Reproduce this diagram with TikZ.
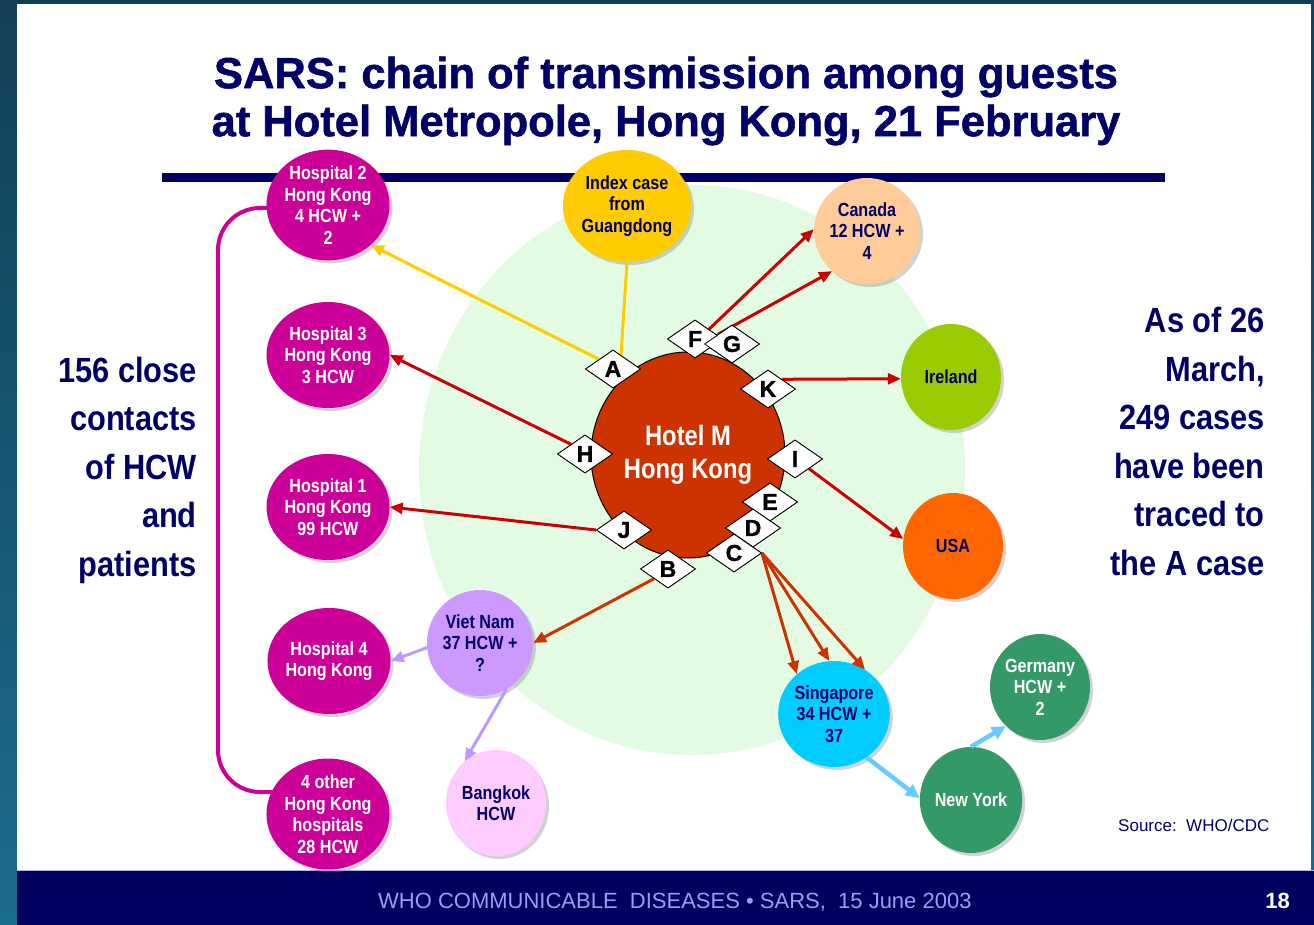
\documentclass[tikz,border=0pt]{standalone}
\usepackage{fontspec}
\setmainfont{Liberation Sans}
\newfontfamily\nf[FakeStretch=0.85]{Liberation Sans}
\newfontfamily\nfb[FakeStretch=0.88]{Liberation Sans}
\newfontfamily\heavy[FakeBold=1.2]{Liberation Sans}
\usetikzlibrary{shapes.geometric,arrows.meta,shadows,calc}
\definecolor{navy}{HTML}{000066}
\definecolor{footnavy}{HTML}{000060}
\definecolor{foottext}{HTML}{9C9CF4}
\definecolor{tealtop}{HTML}{123F57}
\definecolor{tealbot}{HTML}{1B6D8D}
\definecolor{mag}{HTML}{CC0099}
\definecolor{redarr}{HTML}{CC0000}
\definecolor{orarr}{HTML}{CC3300}
\definecolor{hotelc}{HTML}{CC3300}
\definecolor{yel}{HTML}{FFCC00}
\definecolor{mint}{HTML}{E2FBE2}
\definecolor{canadac}{HTML}{FFCC99}
\definecolor{irelandc}{HTML}{99CC00}
\definecolor{usac}{HTML}{FF6600}
\definecolor{vnc}{HTML}{CC99FF}
\definecolor{bkc}{HTML}{FFCCFF}
\definecolor{sgc}{HTML}{00CCFF}
\definecolor{grc}{HTML}{339966}
\definecolor{lblue}{HTML}{66CCFF}
\definecolor{lpurp}{HTML}{BB99FF}
\begin{document}
\begin{tikzpicture}[x=1pt,y=-1pt,
  ball/.style={ellipse, minimum width=100pt, minimum height=106pt, inner sep=0pt, align=center,
    font=\nf\bfseries\fontsize{19}{21.5}\selectfont,
    drop shadow={shadow xshift=3pt, shadow yshift=-3pt, opacity=0.35}},
  hosp/.style={ball, fill=mag, text=white},
  letterbox/.style={diamond, draw=black, line width=0.8pt, fill=white, minimum width=55pt,
    minimum height=38pt, inner sep=0pt, font=\heavy\bfseries\fontsize{23}{23}\selectfont},
  arr/.style={line width=3pt, -{Triangle[length=13pt,width=11pt]}},
  thickarr/.style={line width=4.5pt, -{Triangle[length=14pt,width=13pt]}},
  bigtext/.style={font=\nfb\bfseries\fontsize{35}{48.5}\selectfont, text=navy, align=right, inner sep=0pt}
]
\useasboundingbox (0,0) rectangle (1314,925);
% background
\shade[top color=tealtop, bottom color=tealbot] (0,0) rectangle (1314,925);
\fill[white] (17,4) rectangle (1311,870);
\fill[footnavy] (17,870) rectangle (1314,925);
\draw[color=foottext!80!white, line width=1.5pt] (17,870.5) -- (1314,870.5);
% title
\node[font=\heavy\bfseries\fontsize{43.5}{48}\selectfont, text=navy, align=center] (title) at (666,101)
  {SARS: chain of transmission among guests\\at Hotel Metropole, Hong Kong, 21 February};
\draw[navy, line width=9pt] (162,178) -- (1165,178);
% mint backdrop
\fill[mint] (692,470) ellipse [x radius=273, y radius=285];
% side texts (base anchor = baseline of last line)
\node[bigtext, anchor=base east] (lefttext) at (197,576)
  {156 close\\contacts\\of HCW\\and\\patients};
\node[bigtext, anchor=base east] (righttext) at (1265,575)
  {As of 26\\March,\\249 cases\\have been\\traced to\\the A case};
\node[font=\fontsize{17}{17}\selectfont, text=navy, anchor=base west, inner sep=0pt] (source) at (1118,831)
  {Source:\ \ WHO/CDC};
% footer
\node[font=\fontsize{22}{22}\selectfont, text=foottext, anchor=base west, inner sep=0pt] (foot) at (378,908)
  {WHO COMMUNICABLE\ \ DISEASES \textbullet\ SARS,\ \ 15 June 2003};
\node[font=\bfseries\fontsize{22}{22}\selectfont, text=white, anchor=base east, inner sep=0pt] (pagenum) at (1290,908) {18};
% circles
\node[hosp] (h2) at (328,205) {Hospital 2\\Hong Kong\\4 HCW +\\2};
\node[hosp] (h3) at (328,355) {Hospital 3\\Hong Kong\\3 HCW};
\node[hosp] (h1) at (328,507) {Hospital 1\\Hong Kong\\99 HCW};
\node[hosp] (h4) at (329,661) {Hospital 4\\Hong Kong};
\node[hosp] (h5) at (328,814) {4 other\\Hong Kong\\hospitals\\28 HCW};
\node[ball, fill=yel, text=navy, minimum width=110pt, minimum height=112pt] (index) at (627,206) {Index case\\from\\Guangdong};
\node[ball, fill=canadac, text=navy] (canada) at (867,231) {Canada\\12 HCW +\\4};
\node[ball, fill=irelandc, text=navy] (ireland) at (951,377) {Ireland};
\node[ball, fill=usac, text=navy] (usa) at (953,546) {USA};
\node[ball, fill=vnc, text=navy] (vn) at (480,643) {Viet Nam\\37 HCW +\\?};
\node[ball, fill=bkc, text=navy] (bk) at (496,803) {Bangkok\\HCW};
\node[ball, fill=sgc, text=navy] (sg) at (834,714) {Singapore\\34 HCW +\\37};
\node[ball, fill=grc, text=white] (de) at (1040,687) {Germany\\HCW +\\2};
\node[ball, fill=grc, text=white] (ny) at (971,800) {New York};
% hotel
\node[ellipse, draw=black, line width=1pt, fill=hotelc, minimum width=194pt, minimum height=206pt,
  text=white, font=\nf\bfseries\fontsize{28}{33}\selectfont, align=center, inner sep=0pt] (hotel) at (688,455)
  {Hotel M\\Hong Kong};
% bracket
\coordinate (btop) at (273,208);
\coordinate (bbot) at (274,792);
\draw[mag, line width=4pt, rounded corners=42pt] (btop) -- (218,208) -- (218,792) -- (bbot);
% diamonds
\node[letterbox] (A) at (613,369) {A};
\node[letterbox] (F) at (695,339) {F};
\node[letterbox] (G) at (732,344) {G};
\node[letterbox] (K) at (768,389) {K};
\node[letterbox] (H) at (585,454) {H};
\node[letterbox] (I) at (795,459) {I};
\node[letterbox] (E) at (770,502) {E};
\node[letterbox] (D) at (753,528) {D};
\node[letterbox] (C) at (734,553) {C};
\node[letterbox] (J) at (624,530) {J};
\node[letterbox] (B) at (668,569) {B};
% connectors
\draw[yel, line width=3pt] (index.south) -- (A.60);
\draw[yel, arr] (A.north west) -- (h2.317);
\draw[redarr, arr] (F.north east) -- (canada.178);
\draw[redarr, arr] (G.north west) -- (canada.229);
\draw[redarr, arr] (K.north east) -- (ireland.182);
\draw[redarr, arr] (H.north west) -- (h3.east);
\draw[redarr, arr] (I.south east) -- (usa.172);
\draw[redarr, arr] (J.west) -- (h1.east);
\draw[orarr, arr] (B.south west) -- (vn.east);
\draw[orarr, arr] (C.east) -- (sg.133);
\draw[orarr, arr] (C.east) -- (sg.95);
\draw[orarr, arr] (C.east) -- (sg.55);
\draw[lpurp, arr] (vn.185) -- (h4.east);
\draw[lpurp, arr] (vn.300) -- (bk.127);
\draw[lblue, thickarr] (sg.307) -- (ny.178);
\draw[lblue, thickarr] (ny.north) -- (de.229);
% redraw diamonds on top of connector starts
\foreach \n/\t in {A/A,F/F,G/G,K/K,H/H,I/I,E/E,D/D,C/C,J/J,B/B}{
  \node[letterbox] at (\n) {\t};
}
\end{tikzpicture}
\end{document}
